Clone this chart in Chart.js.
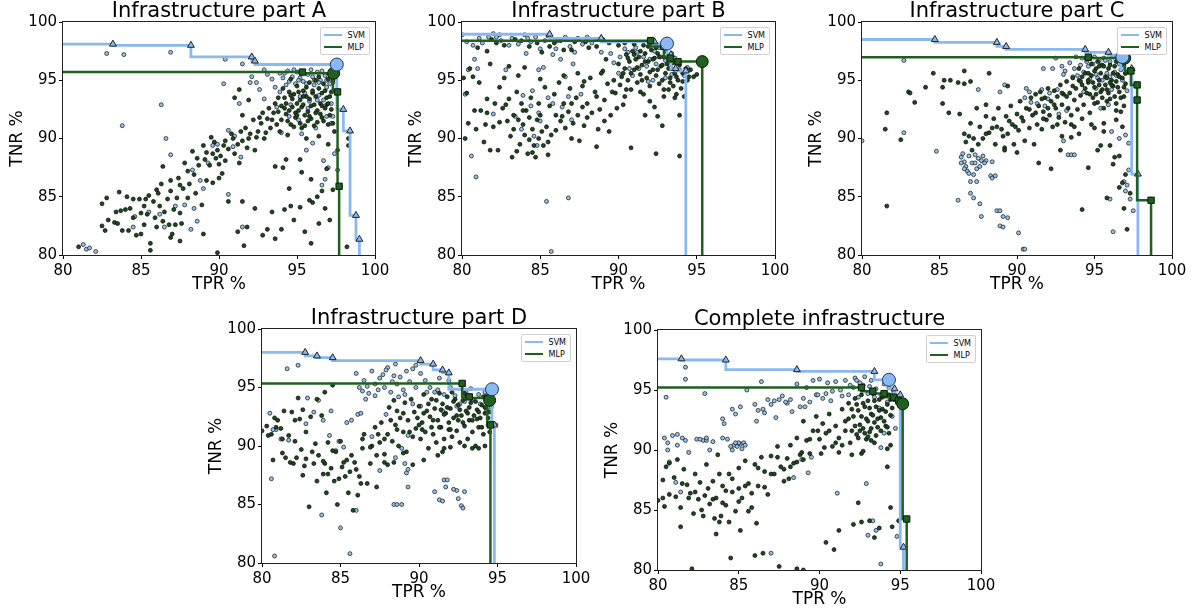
<!DOCTYPE html>
<html>
<head>
<meta charset="utf-8">
<script src="https://cdn.jsdelivr.net/npm/chart.js@4.4.0/dist/chart.umd.min.js"></script>
<style>
body { margin: 0; background: #fff; width: 1193px; height: 615px; overflow: hidden; position: relative; font-family: "DejaVu Sans", sans-serif; }
canvas { position: absolute; }
.ttl { position: absolute; text-align: center; font-size: 21px; line-height: 21px; color: #000; white-space: nowrap; }
.leg { position: absolute; background: #fff; border: 1px solid #d0d0d0; border-radius: 2px; font-size: 8px; padding: 1px 4px 1px 3px; color: #000; }
.leg div { display: flex; align-items: center; height: 12px; }
.leg span { display: inline-block; width: 18px; height: 2.5px; margin-right: 6px; }
</style>
</head>
<body>
<script>
// scatter of all configurations, flat [TPR, TNR, TPR, TNR, ...]
var svmA = [82.8,97.3, 83.9,97.2, 86.9,97.4, 90.4,96.8, 91.5,96.4, 83.8,91.1, 86.3,92.9, 86.6,90.0, 86.9,88.6, 90.3,94.7, 81.3,80.9, 81.5,80.5, 81.7,80.6, 82.1,80.3, 92.1,95.3, 92.4,94.8, 92.9,95.9, 93.1,95.5, 93.4,95.1, 93.6,94.4, 93.9,95.6, 94.1,95.2, 94.3,94.6, 94.4,95.8, 94.7,95.3, 94.9,94.7, 95.0,95.7, 95.2,95.2, 95.4,94.9, 95.5,93.9, 95.7,95.5, 95.8,93.2, 96.0,95.3, 96.1,94.6, 96.3,95.7, 96.4,93.7, 96.5,95.0, 96.7,93.3, 96.8,95.4, 96.9,94.4, 97.1,95.5, 97.2,93.0, 97.3,94.8, 97.3,91.9, 96.2,90.9, 95.1,91.6, 94.6,92.9, 93.7,92.7, 92.9,93.4, 90.6,90.7, 90.9,89.3, 91.4,88.4, 89.9,89.5, 89.3,87.9, 88.8,86.4, 87.8,84.3, 86.2,83.5, 85.5,83.7, 84.5,82.4, 88.6,82.9, 88.4,84.0, 89.0,85.7, 90.6,85.2, 91.5,82.4, 96.8,86.5, 96.6,86.0, 97.0,87.5, 96.7,88.1, 97.4,88.7, 95.6,89.0, 96.0,89.6, 94.0,90.5,
    93.9,94.0, 94.2,95.6, 94.5,94.9, 94.8,95.9, 95.1,95.0, 95.3,95.6, 95.6,94.7, 95.9,95.9, 96.1,95.0, 96.4,94.8, 96.6,95.8, 96.9,95.0, 97.1,94.7, 95.2,93.6, 95.7,92.6, 96.3,93.3, 96.9,91.9, 97.2,91.3, 94.5,91.9, 92.6,94.2, 92.0,94.8, 91.3,93.0, 91.0,90.2, 89.6,89.4, 88.3,87.3, 87.2,84.2, 86.5,82.4, 84.6,83.3, 88.2,82.2, 95.3,90.4, 97.6,87.3];
var mlpA = [81.0,80.7, 82.5,84.4, 82.8,84.9, 82.5,82.5, 82.7,82.1, 83.3,82.8, 83.5,82.7, 83.6,85.4, 83.7,83.8, 83.8,82.1, 84.0,83.9, 84.1,85.0, 84.2,82.1, 84.5,84.8, 84.5,83.2, 84.7,81.7, 84.9,84.8, 85.0,83.6, 85.2,82.6, 85.3,84.8, 85.4,83.5, 85.5,85.1, 85.6,81.0, 85.6,80.4, 85.8,84.6, 85.9,83.2, 86.0,82.4, 86.1,85.3, 86.2,84.2, 86.3,86.1, 86.4,87.6, 86.5,83.7, 86.7,84.8, 86.8,82.6, 86.9,85.5, 87.0,81.8, 87.1,83.9, 87.3,84.9, 87.4,86.6, 87.5,83.6, 87.6,82.7, 87.7,85.7, 87.8,87.9, 88.1,86.1, 88.3,88.9, 88.4,86.9, 88.5,85.3, 88.7,87.7, 89.0,89.4, 89.1,88.2, 89.2,86.4, 89.4,87.7, 89.5,90.1, 89.6,88.7, 89.8,88.3, 89.9,89.0, 90.0,87.8, 90.1,88.5, 90.3,89.4, 90.4,88.1, 90.6,89.1, 90.8,90.4, 91.0,88.7, 91.2,89.5, 91.3,87.9, 91.5,89.8, 91.7,90.9, 91.8,89.2, 92.0,90.4, 92.3,89.0, 92.5,90.6, 92.7,91.3, 92.9,90.0, 93.1,91.7, 93.3,90.9, 93.5,92.2, 93.7,91.2, 93.9,90.6, 91.6,80.8, 91.8,82.4, 92.8,81.7, 93.1,82.2, 93.6,81.4, 89.0,81.8, 89.9,80.2, 90.6,84.6, 91.2,82.0, 86.9,81.5, 87.5,81.2, 94.2,83.9, 94.6,84.2, 94.8,83.0, 95.2,84.1, 95.5,82.0, 95.8,84.7, 96.0,84.5, 96.4,82.7, 96.6,85.5, 97.1,83.0, 96.9,87.4, 97.0,89.5, 95.3,87.1, 94.1,87.5, 95.2,88.2, 94.5,85.7, 98.2,80.7, 94.0,92.8, 94.2,93.5, 94.3,92.1, 94.5,94.0, 94.6,91.2, 94.7,92.7, 94.8,93.8, 94.9,91.8, 95.0,94.5, 95.1,92.4, 95.2,93.3, 95.3,90.9, 95.4,94.1, 95.5,92.0, 95.6,93.6, 95.7,91.5, 95.8,94.8, 95.9,92.8, 96.0,93.9, 96.1,91.1, 96.2,95.0, 96.3,92.4, 96.4,94.3, 96.5,93.0, 96.6,91.8, 96.7,94.7, 96.8,92.6, 96.9,93.5, 97.0,95.1, 97.1,92.0, 97.2,94.0, 93.8,93.5, 93.2,92.6, 92.8,92.2, 94.4,90.3, 95.6,90.0, 96.4,90.2, 92.2,91.6, 91.9,93.3, 91.3,94.2, 91.0,93.5, 91.5,92.0,
    93.6,93.0, 93.8,92.3, 94.0,91.6, 94.1,94.3, 94.3,93.0, 94.4,91.5, 94.5,92.4, 94.6,95.1, 94.7,93.4, 94.8,91.0, 94.9,92.2, 95.0,93.0, 95.1,94.0, 95.2,91.3, 95.3,92.7, 95.4,93.6, 95.5,91.1, 95.6,94.4, 95.7,92.3, 95.8,93.4, 95.9,91.7, 96.0,94.1, 96.1,92.9, 96.2,93.6, 96.3,91.4, 96.4,95.3, 96.5,92.1, 96.6,93.9, 96.7,91.5, 96.8,94.1, 96.9,92.9, 97.0,91.2, 97.1,93.6, 97.2,92.5, 97.3,95.0, 94.2,92.6, 94.6,93.7, 95.0,92.0, 95.4,92.9, 95.8,91.9, 96.2,92.2, 96.6,92.8, 97.0,93.0, 93.4,91.6, 93.0,90.5, 92.6,91.8, 92.4,90.1, 91.9,90.0, 91.4,90.6, 90.9,90.0, 90.4,89.8, 89.7,89.7, 89.2,88.8, 88.6,88.3, 88.0,87.2, 87.5,86.0, 86.9,86.4, 86.0,85.6, 85.2,84.2, 84.3,84.0, 83.4,83.7, 82.9,83.0, 90.0,86.6, 89.6,86.2, 90.2,87.0, 88.9,84.3, 88.0,84.9, 87.2,82.6, 86.4,82.9, 85.0,81.8, 91.5,84.6, 92.3,84.0, 93.4,83.7, 94.0,82.2, 95.9,81.0, 96.3,85.0, 97.3,85.6, 98.3,90.0, 98.3,89.4, 97.6,89.0, 97.4,90.6, 97.3,91.3, 93.6,87.6, 94.3,88.2, 95.9,86.5, 96.8,84.0];

var svmB = [80.0,98.9, 80.3,98.3, 80.6,88.5, 80.9,86.7, 85.4,84.6, 86.8,84.9, 85.7,80.3, 80.2,93.8, 80.4,95.9, 80.8,96.8, 81.0,96.0, 81.3,98.2, 81.7,98.7, 82.0,99.0, 82.2,98.7, 82.5,98.4, 82.0,92.1, 82.8,95.9, 83.2,98.6, 83.6,98.1, 84.0,98.9, 84.1,97.3, 84.4,98.3, 84.7,98.7, 84.9,95.9, 85.0,97.7, 85.2,96.1, 85.5,98.8, 85.8,97.2, 86.1,98.4, 86.3,96.8, 86.6,98.7, 86.9,97.9, 87.1,96.4, 87.4,98.6, 87.7,98.1, 88.0,98.7, 88.3,98.2, 88.6,98.5, 88.9,97.4, 84.5,94.1, 84.9,92.2, 84.6,90.2, 84.8,89.4, 85.0,91.5, 85.5,93.5, 86.4,92.7, 87.0,91.6, 86.8,93.6, 83.8,90.8, 83.4,91.9, 89.7,96.5, 90.1,97.0, 90.6,97.4, 91.1,97.8, 91.6,97.0, 92.0,96.8, 92.3,97.5, 92.7,97.0, 93.0,96.7, 93.3,96.3, 93.6,96.9, 93.9,95.9, 94.2,95.4, 91.3,96.0, 90.9,95.4, 92.2,95.0, 93.4,95.5,
    90.0,95.6, 90.7,96.0, 91.2,97.4, 91.8,96.2, 92.4,96.4, 92.6,97.8, 93.0,95.2, 93.4,97.3, 93.8,96.5, 94.4,96.1, 91.9,94.9, 90.4,97.7, 89.5,97.3, 87.2,97.4, 86.0,97.7, 85.3,98.4, 84.2,98.6, 83.0,98.0, 82.4,98.9, 81.1,98.6, 80.7,98.0, 86.6,95.3, 87.6,93.8, 85.8,93.0, 84.4,92.8, 83.9,93.7];
var mlpB = [80.1,95.2, 80.3,93.9, 80.4,91.3, 80.2,90.0, 80.5,96.0, 80.8,92.4, 80.9,90.8, 81.1,94.8, 81.2,92.4, 81.4,89.7, 81.5,91.2, 81.6,92.2, 81.8,96.4, 82.0,91.0, 82.1,93.0, 82.3,89.0, 82.4,94.4, 82.6,92.6, 82.7,95.2, 82.9,91.5, 83.0,93.4, 83.1,90.2, 83.2,88.4, 83.3,92.0, 83.5,94.0, 83.5,88.9, 83.6,91.6, 83.7,89.5, 83.8,93.0, 83.9,91.2, 84.0,90.3, 84.1,92.4, 84.2,88.7, 84.3,91.8, 84.4,93.5, 84.5,90.8, 84.6,89.4, 84.7,88.4, 84.8,91.6, 84.9,93.0, 85.0,92.0, 85.1,90.6, 85.3,94.4, 85.4,91.0, 85.5,88.6, 85.6,92.8, 85.7,90.3, 85.9,93.8, 86.0,92.0, 86.2,94.8, 86.3,91.5, 86.5,93.0, 86.6,90.9, 86.8,92.3, 86.9,94.3, 87.0,90.0, 87.1,91.3, 87.3,93.5, 87.4,92.0, 87.5,89.8, 87.7,94.5, 87.8,91.1, 88.0,93.0, 88.2,95.2, 88.3,92.2, 88.5,94.0, 88.7,90.8, 88.8,92.5, 89.0,95.8, 89.1,93.3, 89.3,94.7, 89.4,90.6, 89.5,92.0, 89.7,95.0, 89.8,93.9, 90.0,96.4, 90.1,94.6, 90.3,95.6, 90.4,93.6, 90.5,97.2, 90.6,95.0, 90.7,96.6, 90.8,94.2, 90.9,97.5, 91.0,95.9, 91.1,96.8, 91.2,94.8, 91.3,97.0, 91.4,95.5, 91.5,96.3, 91.6,93.8, 91.7,97.3, 91.8,95.2, 91.9,96.6, 92.0,94.5, 92.1,97.6, 92.2,95.9, 92.3,96.9, 92.4,95.4, 92.5,97.3, 92.6,94.7, 92.7,96.2, 92.8,95.0, 92.9,97.0, 93.0,95.6, 93.1,96.4, 93.2,94.2, 93.3,95.2, 93.4,96.0, 93.5,94.5, 93.6,95.6, 93.7,93.8, 93.8,95.0, 94.0,94.3, 94.1,95.6, 94.3,96.0, 94.5,95.3, 88.6,89.3, 90.8,89.2, 92.4,88.7, 93.9,88.5, 93.9,92.0, 92.3,92.7, 92.5,91.9, 91.7,92.0, 92.8,91.1, 81.8,89.0, 84.5,88.8, 83.0,96.2, 81.6,97.5, 82.2,98.2, 83.4,98.5, 84.3,97.9, 85.1,97.4, 85.9,98.2, 86.5,97.6, 87.2,98.3, 88.1,97.8, 89.0,98.5, 90.0,98.0,
    90.2,95.3, 90.4,96.0, 90.6,96.9, 90.8,95.6, 91.0,97.2, 91.2,96.1, 91.4,97.5, 91.5,95.0, 91.7,96.6, 91.9,97.9, 92.0,95.7, 92.2,96.8, 92.4,97.8, 92.5,95.9, 92.6,97.0, 92.8,96.3, 92.9,94.2, 93.0,97.5, 93.2,96.0, 93.3,94.8, 93.5,96.5, 93.7,95.3, 93.9,96.3, 94.1,94.9, 94.4,95.0, 94.6,95.9, 94.8,95.3, 95.0,95.5, 94.2,93.6, 93.6,93.5, 92.9,93.6, 92.0,93.2, 91.4,94.0, 90.5,94.2, 89.6,94.0, 89.9,92.6, 90.3,92.9, 89.1,91.5, 88.6,93.6, 88.0,91.8, 87.7,92.7, 87.0,93.0, 86.4,91.9, 86.0,90.7, 85.5,89.7, 85.2,89.4, 84.9,90.0, 84.3,89.9, 83.9,92.4, 83.3,90.8, 82.8,92.9, 82.4,91.4, 81.6,93.4, 80.7,95.3, 81.0,97.8, 81.9,98.5, 82.7,98.0, 83.8,98.4, 84.8,98.2, 85.6,97.9, 86.3,98.4, 87.0,97.6, 87.9,98.3, 88.6,97.9, 89.4,98.2, 90.4,98.2, 91.0,98.1, 91.6,98.0, 84.0,96.1, 83.6,95.4, 85.0,95.1, 86.5,95.4, 87.4,95.6, 89.2,96.8, 88.9,95.6, 87.8,94.9];

var svmC = [82.7,96.7, 82.7,90.5, 84.8,88.9, 80.0,89.8, 86.2,84.7, 87.6,84.4, 87.7,83.3, 88.7,83.8, 88.9,83.8, 88.9,82.5, 89.1,82.4, 89.1,83.3, 90.1,81.9, 90.4,80.5, 90.5,80.5, 96.2,82.0, 96.0,84.8, 96.9,86.3, 97.0,85.5, 97.1,86.0, 97.2,87.3, 97.3,84.8, 97.5,83.8, 88.9,94.0, 89.2,94.6, 87.5,94.2, 86.4,88.4, 86.6,88.0, 86.7,87.6, 86.9,88.5, 87.1,87.9, 87.2,86.9, 87.3,88.6, 87.4,87.4, 87.5,88.3, 87.7,88.1, 86.8,87.2, 86.5,88.7, 87.0,86.3, 87.4,86.3, 86.9,87.0, 87.0,85.3, 87.2,84.9, 88.3,86.8, 88.4,86.6, 88.0,88.1, 86.6,87.4, 90.5,93.5, 90.8,94.0, 91.3,93.0, 91.6,94.2, 92.0,93.4, 92.3,96.0, 92.5,96.9, 92.9,96.2, 93.1,95.8, 93.4,96.5, 93.7,96.0, 93.9,95.4, 94.1,96.3, 94.3,95.7, 94.5,96.6, 94.7,95.1, 94.9,96.4, 95.1,95.5, 95.3,96.7, 95.5,95.0, 95.6,96.9, 95.8,95.6, 96.0,96.6, 96.1,94.2, 96.3,95.7, 96.5,96.8, 96.7,95.9, 96.9,96.3, 97.0,95.6, 97.1,94.1, 93.3,88.6, 93.5,88.6, 93.7,88.6, 93.0,89.8, 92.7,92.1, 93.2,92.4, 95.4,92.6, 95.9,92.9, 96.6,90.0, 96.1,90.6, 97.0,90.3, 97.2,89.6,
    94.2,96.9, 94.6,96.2, 95.0,97.0, 95.2,95.2, 95.4,96.3, 95.7,96.7, 96.0,95.3, 96.2,97.0, 96.4,95.4, 96.6,96.4, 96.8,95.0, 95.1,94.3, 94.3,94.0, 93.6,95.3, 93.0,95.5, 92.6,94.2, 92.1,93.9, 91.8,92.8, 90.9,93.1, 90.6,94.3, 88.4,88.0, 87.9,87.9, 87.6,87.6, 87.8,88.5, 86.4,87.9, 87.3,87.9, 89.4,83.2, 88.6,86.8, 91.7,96.0, 93.8,97.0];
var mlpC = [81.5,90.8, 81.6,92.2, 82.5,89.9, 83.0,94.0, 83.1,93.9, 83.4,93.1, 84.1,94.4, 84.6,95.6, 85.2,93.0, 85.2,94.4, 85.3,95.0, 85.6,92.2, 85.7,95.0, 86.2,94.8, 86.3,92.1, 86.6,94.7, 86.6,95.8, 87.0,94.9, 87.4,92.6, 88.0,92.9, 88.2,95.6, 89.4,94.5, 81.6,84.2, 94.2,83.9, 96.9,84.0, 97.1,82.2, 95.8,84.9, 86.6,90.4, 86.7,89.7, 87.0,91.3, 87.2,90.0, 87.6,91.0, 87.8,90.0, 88.0,91.9, 88.2,90.5, 88.5,91.7, 88.6,89.5, 88.8,92.6, 89.0,90.8, 89.2,89.2, 89.3,91.9, 89.4,90.4, 89.6,92.8, 89.7,91.2, 89.8,89.5, 90.0,92.1, 90.1,90.7, 90.2,93.2, 90.4,91.5, 90.5,89.8, 90.6,92.6, 90.8,90.9, 90.9,93.5, 91.0,92.0, 91.1,89.5, 91.2,93.8, 91.3,91.2, 91.4,92.8, 91.5,94.0, 91.6,90.8, 91.7,92.3, 91.8,93.5, 91.9,91.6, 92.0,94.3, 92.1,92.0, 92.2,93.2, 92.3,91.0, 92.4,94.1, 92.5,92.6, 92.6,93.6, 92.7,91.8, 92.8,94.6, 92.9,92.9, 93.0,93.8, 93.1,91.4, 93.2,94.9, 93.3,92.6, 93.4,93.9, 93.5,92.0, 93.6,95.2, 93.7,93.3, 93.8,94.3, 93.9,92.5, 94.0,95.0, 94.1,93.7, 94.2,94.6, 94.3,92.9, 94.4,95.6, 94.5,93.9, 94.6,94.8, 94.7,92.2, 94.8,95.4, 94.9,93.5, 95.0,94.4, 95.1,96.0, 95.2,93.1, 95.3,95.0, 95.4,94.0, 95.5,96.3, 95.6,92.6, 95.7,95.3, 95.8,94.2, 95.9,96.0, 96.0,93.4, 96.1,95.0, 96.2,94.5, 96.3,96.2, 96.4,93.0, 96.5,95.5, 96.6,94.0, 96.7,92.3, 96.8,95.2, 96.9,93.6, 97.0,94.7, 95.0,90.9, 95.2,89.0, 96.0,89.4, 96.2,87.8, 95.6,91.3, 96.4,91.6, 96.8,91.0, 94.0,90.4, 93.5,90.1, 91.4,87.9, 92.2,87.4, 92.8,89.0, 94.6,87.5, 96.6,88.5, 89.2,89.0, 90.0,88.8,
    94.0,96.0, 94.2,95.3, 94.4,94.3, 94.5,96.8, 94.6,95.6, 94.7,93.8, 94.8,96.4, 94.9,94.8, 95.0,95.8, 95.1,93.8, 95.2,96.6, 95.3,94.6, 95.4,95.6, 95.5,93.5, 95.6,96.2, 95.7,94.6, 95.8,95.2, 95.9,93.9, 96.0,96.3, 96.1,94.6, 96.2,95.6, 96.3,93.6, 96.4,96.6, 96.5,94.4, 96.6,95.3, 96.7,93.5, 96.8,96.4, 96.9,94.4, 97.0,95.6, 95.0,93.0, 95.5,94.2, 96.0,94.8, 94.6,95.0, 95.3,96.2, 95.8,93.2, 96.4,94.9, 94.1,94.9, 93.6,94.5, 93.2,93.6, 92.9,93.9, 92.4,92.9, 92.0,92.6, 91.6,93.4, 91.2,92.2, 90.8,92.5, 90.3,91.8, 89.9,91.0, 89.5,91.5, 89.1,90.2, 88.7,91.0, 88.4,90.9, 88.0,90.4, 87.5,89.5, 87.1,89.0, 86.9,90.2, 91.7,91.7, 92.6,91.2, 93.5,91.2, 94.2,91.7, 94.8,91.2, 95.6,90.6, 96.4,92.4, 96.9,92.8, 97.0,86.9, 96.3,88.4, 95.4,89.4, 93.7,91.0, 92.9,90.2, 96.8,86.2, 96.6,85.8, 97.3,85.3];

var svmD = [81.6,96.6, 82.3,96.9, 80.6,87.2, 80.8,80.6, 83.8,84.1, 85.0,83.0, 85.6,80.8, 86.0,84.5, 88.4,85.0, 88.6,85.0, 88.9,85.0, 89.2,87.7, 89.3,86.5, 89.1,88.5, 89.3,88.0, 91.0,86.1, 91.3,85.4, 91.5,85.3, 91.6,87.1, 91.8,87.1, 92.4,86.2, 92.5,85.5, 92.7,84.9, 92.8,84.7, 92.9,86.1, 91.7,86.5, 92.2,86.3, 80.5,92.8, 80.9,91.4, 81.7,90.5, 82.9,94.1, 83.6,93.9, 84.4,93.0, 84.3,90.9, 83.9,92.2, 86.0,96.2, 86.2,95.0, 86.4,94.7, 86.6,94.0, 86.8,94.5, 87.0,96.4, 87.2,95.3, 87.4,94.8, 87.5,95.8, 87.7,96.1, 87.8,95.0, 88.0,96.7, 88.2,94.6, 88.4,96.0, 88.5,97.0, 88.6,95.3, 88.8,95.9, 89.0,94.8, 89.2,96.4, 89.4,95.5, 89.6,96.6, 89.8,95.0, 90.1,96.2, 90.4,95.6, 90.7,95.0, 91.0,94.6, 91.3,95.8, 91.6,94.4, 92.0,95.0, 92.3,94.3, 92.6,93.6, 93.0,94.6, 93.4,94.0, 93.8,94.4, 94.2,94.6, 94.6,93.3, 86.1,92.7, 85.7,92.2, 86.3,92.8, 87.0,90.8, 87.9,92.7, 88.5,89.0, 85.2,89.9, 85.4,92.0, 94.9,91.8,
    90.1,93.4, 90.5,94.6, 91.2,94.8, 91.5,93.0, 91.9,95.6, 92.4,93.4, 92.9,93.8, 93.3,94.9, 93.9,93.6, 94.3,93.1, 89.6,93.6, 89.1,94.4, 88.7,94.2, 88.3,95.5, 87.9,96.5, 87.2,94.3, 86.7,95.1, 86.5,95.6, 89.8,96.9, 89.3,90.9, 88.9,89.8, 87.5,87.9, 84.7,89.6, 84.9,90.4, 83.3,92.9, 82.8,91.9, 81.2,90.6, 80.7,91.4];
var mlpD = [80.0,91.3, 80.3,91.7, 80.6,91.0, 80.8,92.4, 81.0,92.2, 81.2,91.5, 80.7,88.8, 81.3,89.4, 81.5,89.0, 81.7,90.9, 81.9,92.9, 82.0,88.5, 82.1,90.4, 82.3,94.1, 82.4,92.3, 82.5,89.7, 82.6,87.5, 82.7,88.3, 82.8,91.2, 83.0,84.8, 83.1,92.5, 83.3,88.5, 83.4,90.2, 83.5,87.0, 83.6,89.2, 83.8,92.6, 83.9,87.6, 84.0,88.5, 84.1,86.0, 84.2,90.3, 84.4,88.1, 84.6,87.0, 84.7,89.5, 84.8,85.0, 85.0,90.4, 85.1,88.2, 85.3,87.4, 85.4,88.8, 85.5,86.0, 85.7,89.2, 85.8,84.5, 86.0,88.0, 86.2,87.4, 86.4,89.8, 86.5,91.0, 86.7,86.8, 86.9,88.5, 87.0,90.0, 87.2,91.6, 87.3,89.2, 87.5,90.3, 87.6,92.0, 87.8,89.3, 88.0,91.0, 88.1,93.3, 88.3,90.4, 88.4,88.6, 88.5,91.8, 88.6,93.0, 88.7,90.0, 88.8,92.4, 89.0,91.2, 89.1,93.7, 89.2,89.5, 89.3,92.2, 89.5,94.0, 89.6,90.8, 89.7,92.9, 89.8,91.5, 90.0,93.4, 90.1,90.6, 90.2,92.0, 90.3,94.4, 90.4,91.2, 90.5,93.0, 90.6,89.8, 90.7,92.5, 90.8,94.0, 90.9,91.0, 91.0,93.2, 91.1,90.3, 91.2,92.2, 91.3,94.5, 91.4,91.6, 91.5,93.6, 91.6,90.6, 91.7,92.8, 91.8,94.2, 91.9,91.4, 92.0,93.2, 92.1,90.8, 92.2,92.4, 92.3,94.0, 92.4,91.3, 92.5,93.5, 92.6,90.3, 92.7,92.6, 92.8,93.9, 92.9,91.7, 93.0,93.0, 93.1,90.6, 93.2,92.2, 93.3,93.7, 93.4,91.2, 93.5,92.6, 93.6,90.0, 93.7,93.1, 93.8,91.6, 93.9,92.4, 94.0,93.5, 94.1,91.0, 94.2,92.8, 94.3,93.9, 94.4,91.8, 94.5,92.9, 91.2,89.2, 91.5,89.5, 92.0,89.9, 93.8,89.8, 94.2,90.0, 94.5,91.2, 83.5,94.0, 84.0,94.6, 84.5,95.2,
    90.0,91.8, 90.3,92.8, 90.6,93.6, 90.9,92.2, 91.1,93.9, 91.3,91.6, 91.6,92.7, 91.8,93.3, 92.0,91.4, 92.2,93.8, 92.4,92.6, 92.6,93.1, 92.8,92.0, 93.0,94.2, 93.2,93.3, 93.4,92.2, 93.6,93.8, 93.8,92.9, 94.0,91.6, 94.2,93.3, 94.4,92.4, 94.6,92.0, 91.9,92.0, 92.5,92.2, 93.1,92.8, 93.7,92.3, 94.1,94.2, 92.9,94.5, 92.1,94.6, 91.4,93.1, 90.8,91.6, 90.2,91.4, 89.9,92.4, 89.4,91.2, 89.0,92.8, 88.6,91.4, 88.2,92.2, 87.8,90.6, 87.4,91.0, 86.9,89.9, 86.4,90.6, 85.9,88.6, 85.6,87.8, 85.2,88.6, 84.9,87.2, 84.5,89.6, 84.2,87.6, 83.9,88.7, 83.2,89.5, 82.8,88.9, 82.2,89.0, 81.8,88.6, 81.3,90.6, 80.4,90.9, 80.9,91.6, 81.4,93.0, 82.1,92.2, 82.6,93.1, 86.1,85.8, 87.3,86.5, 86.3,86.8, 88.0,88.4, 89.6,88.4, 90.3,88.8, 91.6,89.8, 92.9,90.0, 93.4,89.8, 88.4,93.9, 89.0,89.4, 87.8,88.6];

var svmE = [80.5,94.4, 81.7,96.9, 81.7,95.9, 82.9,94.7, 80.4,91.0, 80.6,90.6, 80.9,91.2, 81.2,90.4, 81.5,91.0, 81.7,90.8, 80.7,89.0, 81.1,87.3, 81.4,86.5, 81.9,89.8, 82.4,90.9, 82.8,90.8, 83.0,90.8, 83.2,90.0, 84.0,92.6, 84.1,92.2, 84.3,90.9, 84.0,91.0, 84.7,90.4, 84.9,90.3, 85.1,90.5, 85.3,90.6, 85.2,90.1, 84.6,90.0, 85.0,90.6, 84.6,93.4, 84.8,93.0, 85.1,93.6, 85.5,95.0, 86.0,93.8, 86.2,93.3, 86.4,95.7, 86.6,93.1, 86.8,94.2, 87.0,93.8, 87.3,92.7, 87.5,94.2, 87.7,94.5, 88.0,93.9, 88.3,93.2, 88.6,95.5, 88.8,93.6, 89.0,94.3, 89.2,95.2, 89.4,94.0, 89.6,95.8, 89.8,94.6, 90.0,95.9, 90.2,94.3, 90.5,95.6, 90.8,94.9, 91.0,95.7, 91.3,95.0, 91.6,95.8, 91.9,95.4, 92.2,96.0, 92.5,95.6, 92.8,96.1, 93.1,95.3, 93.4,94.4, 93.7,93.5, 94.0,91.4, 93.8,90.2, 94.2,94.0, 94.5,92.8, 94.7,91.8, 89.3,88.1, 89.5,89.4, 88.9,89.2, 88.4,87.7, 92.9,87.2, 93.3,84.1, 93.5,83.3, 93.0,82.9, 94.8,82.8, 93.8,80.5, 91.1,86.4, 87.0,81.4,
    91.8,94.6, 92.1,95.2, 92.4,94.4, 92.7,95.4, 93.0,94.7, 93.2,95.8, 93.5,95.1, 93.8,94.6, 94.0,95.5, 94.3,95.2, 94.6,94.8, 92.3,95.8, 91.4,94.5, 90.7,94.1, 90.4,94.7, 89.9,94.6, 89.1,93.6, 88.2,94.2, 87.9,94.0, 87.2,94.1, 86.5,93.4, 86.1,92.4, 85.4,90.4, 84.5,90.3, 84.8,90.6, 83.4,90.7, 82.6,90.9, 81.2,91.3, 80.6,90.0, 83.0,91.0];
var mlpE = [80.3,87.5, 80.5,88.6, 80.7,86.3, 81.0,87.7, 81.2,89.2, 81.4,85.2, 81.6,88.4, 81.8,87.1, 82.0,86.4, 82.2,84.7, 82.3,88.0, 82.5,85.9, 82.6,87.3, 82.8,84.5, 82.9,86.2, 83.0,88.8, 83.2,85.5, 83.4,87.4, 83.5,84.3, 83.6,86.0, 83.7,89.6, 83.8,84.0, 84.0,87.0, 84.2,85.4, 84.4,88.0, 84.6,86.5, 84.8,84.9, 85.0,88.5, 85.2,86.0, 85.4,89.1, 85.6,87.2, 85.8,85.2, 86.0,88.8, 86.2,87.0, 86.4,89.4, 86.6,88.2, 86.8,86.3, 87.0,89.5, 87.2,88.0, 87.4,90.3, 87.6,88.6, 87.8,87.4, 88.0,89.3, 88.2,90.4, 88.4,88.9, 88.6,91.0, 88.8,89.6, 89.0,92.4, 89.2,90.8, 89.4,89.7, 89.6,91.6, 89.8,92.8, 90.0,90.9, 90.2,92.2, 90.4,91.4, 90.6,93.0, 90.8,90.3, 91.0,92.0, 91.2,91.0, 91.4,93.4, 91.6,92.4, 91.8,93.9, 92.0,91.6, 92.1,92.8, 92.2,94.3, 92.3,91.3, 92.4,93.3, 92.5,92.1, 92.6,94.6, 92.7,91.8, 92.8,93.6, 92.9,92.6, 93.0,94.1, 93.1,91.5, 93.2,93.0, 93.3,94.7, 93.4,92.3, 93.5,93.6, 93.6,91.9, 93.7,94.2, 93.8,92.7, 93.9,93.4, 94.0,94.8, 94.1,92.0, 94.2,93.8, 94.3,91.4, 94.4,94.2, 92.0,89.6, 92.6,89.7, 93.2,90.8, 94.2,90.1, 91.2,83.3, 92.1,83.8, 92.6,84.0, 93.1,84.1, 93.4,82.7, 93.7,83.5, 94.4,85.2, 94.5,83.6, 94.2,88.6, 94.9,84.1, 90.4,82.3, 90.9,81.7, 92.4,85.6, 85.1,83.3, 86.1,83.9, 84.5,81.0, 86.0,81.2, 86.5,81.4, 87.5,80.3, 88.6,80.1, 89.0,80.0, 82.1,80.1, 81.4,83.6, 80.3,86.0, 80.0,85.8, 83.6,83.0, 85.0,85.7,
    91.6,91.6, 91.8,92.6, 92.0,93.4, 92.2,92.0, 92.3,93.8, 92.4,91.0, 92.6,92.8, 92.7,93.9, 92.8,91.4, 93.0,92.4, 93.1,93.5, 93.2,91.8, 93.3,92.9, 93.4,94.1, 93.5,91.2, 93.6,92.6, 93.7,93.3, 93.8,91.6, 93.9,94.4, 94.0,92.4, 94.1,93.2, 94.2,91.9, 94.3,94.6, 94.4,92.9, 94.5,93.5, 92.5,91.6, 92.9,90.9, 93.4,90.6, 93.0,91.1, 91.9,90.6, 91.4,90.4, 91.0,90.6, 90.6,91.6, 90.3,90.2, 89.9,91.6, 89.4,90.9, 89.0,89.2, 88.6,89.0, 88.2,88.6, 87.8,88.4, 87.4,89.4, 87.0,88.0, 86.6,86.9, 86.2,88.5, 85.8,86.4, 85.4,87.0, 85.0,86.8, 84.6,87.6, 84.2,86.6, 83.8,88.0, 83.4,85.9, 83.1,86.8, 82.7,85.0, 82.3,86.5, 81.9,86.0, 81.5,87.2, 81.1,86.1, 80.7,88.9, 80.4,85.3, 84.4,84.0, 83.9,84.5, 84.0,85.6, 85.6,84.9, 88.1,87.6, 88.9,89.8, 90.1,89.7, 91.2,89.8, 92.7,89.9, 94.4,90.4];

// pareto fronts (step lines), flat [TPR, TNR, ...]
var frontSvmA = [80,98.1, 83.2,98.1, 88.2,98.0, 92.1,97.0, 92.3,96.65, 97.55,96.35, 97.97,92.5, 98.4,90.65, 98.78,83.4, 99.0,81.35, 99.0,79];
var frontMlpA = [80,95.7, 95.35,95.7, 97.3,95.6, 97.6,94.0, 97.7,85.9, 97.7,79];
var frontSvmB = [80,99.15, 85.6,98.95, 88.9,98.6, 92.3,98.3, 93.1,98.15, 93.35,97.2, 93.65,96.0, 94.3,95.8, 94.3,79];
var frontMlpB = [80,98.4, 92.05,98.4, 92.9,97.9, 93.3,96.9, 93.8,96.6, 95.35,96.6, 95.35,79];
var frontSvmC = [80,98.5, 84.7,98.5, 88.7,98.25, 89.3,97.9, 94.4,97.65, 95.9,97.4, 96.7,97.15, 97.4,96.0, 97.8,86.95, 97.8,79];
var frontMlpC = [80,96.97, 94.6,96.97, 96.95,96.9, 97.35,95.8, 97.75,94.6, 97.75,93.3, 98.65,84.7, 98.65,79];
var frontSvmD = [80,98.0, 82.75,98.0, 83.5,97.7, 84.5,97.55, 90.1,97.3, 90.9,97.0, 91.5,96.5, 91.9,96.25, 94.65,94.85, 94.8,91.8, 94.8,79];
var frontMlpD = [80,95.35, 92.75,95.35, 93.2,94.2, 94.35,94.1, 94.55,91.8, 94.7,79];
var frontSvmE = [80,97.6, 81.45,97.6, 84.2,97.5, 88.6,96.7, 93.4,96.55, 94.3,95.85, 94.65,95.1, 95.0,94.6, 95.2,81.9, 95.2,79];
var frontMlpE = [80,95.2, 92.6,95.2, 93.3,94.9, 94.0,94.7, 94.6,94.4, 94.9,94.1, 95.15,93.85, 95.4,84.25, 95.4,79];

// best configuration of each model
var bestSvm = [[97.55,96.35], [93.1,98.15], [96.8,97.0], [94.65,94.85], [94.3,95.85]];
var bestMlp = [[97.35,95.6], [95.35,96.6], [96.95,96.9], [94.5,93.9], [95.15,93.85]];

var titles = ['Infrastructure part A', 'Infrastructure part B', 'Infrastructure part C', 'Infrastructure part D', 'Complete infrastructure'];
var xTicks = [80, 85, 90, 95, 100];
var yTicks = [80, 85, 90, 95, 100];

var svmPts = [svmA, svmB, svmC, svmD, svmE];
var mlpPts = [mlpA, mlpB, mlpC, mlpD, mlpE];
var svmFronts = [frontSvmA, frontSvmB, frontSvmC, frontSvmD, frontSvmE];
var mlpFronts = [frontMlpA, frontMlpB, frontMlpC, frontMlpD, frontMlpE];

// axes boxes in page pixels: left, top, right, bottom
var boxes = [[63,22,375,255], [462,22,775,255], [862,22,1172,255], [262,329,576,563], [658,330,981,570]];

var SVM_COL = '#8ab8f0';
var MLP_COL = '#1f5f1f';

function pairs(a) {
    var out = [];
    for (var i = 0; i < a.length; i += 2) out.push({x: a[i], y: a[i + 1]});
    return out;
}

var framePlugin = {
    id: 'frame',
    afterDatasetsDraw(chart) {
        var a = chart.chartArea, ctx = chart.ctx;
        ctx.save();
        ctx.strokeStyle = '#222';
        ctx.lineWidth = 1;
        ctx.strokeRect(a.left - 0.5, a.top - 0.5, a.right - a.left + 1, a.bottom - a.top + 1);
        ctx.restore();
    }
};

function markerRadius(r) {
    return function (c) {
        var n = c.dataset.data.length;
        return (c.dataIndex === 0 || c.dataIndex === n - 1) ? 0 : r;
    };
}

function axis(label, isX) {
    var ticksList = isX ? xTicks : yTicks;
    return {
        type: 'linear', min: ticksList[0], max: ticksList[ticksList.length - 1],
        ticks: { stepSize: 5, color: '#000', padding: isX ? 3 : 2, maxRotation: 0,
                 font: { family: 'DejaVu Sans', size: 15 } },
        grid: { drawOnChartArea: false, drawTicks: true, tickLength: 4, color: '#000' },
        border: { display: false },
        title: { display: true, text: label, color: '#000',
                 font: { family: 'DejaVu Sans', size: 17 },
                 padding: isX ? { top: 0, bottom: 10 } : { top: 6, bottom: 0 } },
        afterFit: function (s) { if (isX) s.height = 50; else s.width = 62; }
    };
}

for (let p = 0; p < 5; p++) {
    var b = boxes[p];
    var L = b[0], T = b[1], R = b[2], B = b[3];
    var cv = document.createElement('canvas');
    var w = R - L + 62 + 22, h = B - T + 12 + 50;
    cv.width = w; cv.height = h;
    cv.style.left = (L - 62) + 'px';
    cv.style.top = (T - 12) + 'px';
    cv.style.width = w + 'px'; cv.style.height = h + 'px';
    document.body.appendChild(cv);

    var ttl = document.createElement('div');
    ttl.className = 'ttl';
    ttl.textContent = titles[p];
    ttl.style.left = L + 'px';
    ttl.style.width = (R - L) + 'px';
    ttl.style.top = (T - 22.3) + 'px';
    document.body.appendChild(ttl);

    var leg = document.createElement('div');
    leg.className = 'leg';
    leg.innerHTML = '<div><span style="background:' + SVM_COL + '"></span>SVM</div>' +
                    '<div><span style="background:' + MLP_COL + '"></span>MLP</div>';
    leg.style.right = (1193 - R + 5) + 'px';
    leg.style.top = (T + 5) + 'px';
    document.body.appendChild(leg);

    new Chart(cv, {
        type: 'scatter',
        data: {
            datasets: [
                { label: 'SVM best', data: [{x: bestSvm[p][0], y: bestSvm[p][1]}], order: 1,
                  pointRadius: 6.5, backgroundColor: SVM_COL, borderColor: '#1b3a6a', borderWidth: 1, clip: 0 },
                { label: 'MLP best', data: [{x: bestMlp[p][0], y: bestMlp[p][1]}], order: 2,
                  pointRadius: 6, backgroundColor: MLP_COL, borderColor: '#0b1a0b', borderWidth: 1, clip: 0 },
                { label: 'MLP', data: pairs(mlpFronts[p]), order: 3, showLine: true, stepped: 'after',
                  borderColor: MLP_COL, borderWidth: 2.5, pointStyle: 'rect', pointRadius: markerRadius(4.5),
                  pointBackgroundColor: MLP_COL, pointBorderColor: '#0b1a0b', pointBorderWidth: 1, clip: 0 },
                { label: 'SVM', data: pairs(svmFronts[p]), order: 4, showLine: true, stepped: 'after',
                  borderColor: SVM_COL, borderWidth: 2.8, pointStyle: 'triangle', pointRadius: markerRadius(4),
                  pointBackgroundColor: SVM_COL, pointBorderColor: '#222', pointBorderWidth: 1, clip: 0 },
                { label: 'MLP configs', data: pairs(mlpPts[p]), order: 5, pointRadius: 2,
                  backgroundColor: '#1d4a1d', borderColor: '#050a05', borderWidth: 0.7, clip: 0 },
                { label: 'SVM configs', data: pairs(svmPts[p]), order: 6, pointRadius: 2,
                  backgroundColor: '#96c0f2', borderColor: '#0a140a', borderWidth: 0.7, clip: 0 }
            ]
        },
        options: {
            responsive: false,
            animation: false,
            events: [],
            layout: { padding: { left: 0, top: 12, right: 22, bottom: 0 } },
            plugins: { legend: { display: false }, tooltip: { enabled: false } },
            scales: { x: axis('TPR %', true), y: axis('TNR %', false) }
        },
        plugins: [framePlugin]
    });
}
</script>
</body>
</html>
